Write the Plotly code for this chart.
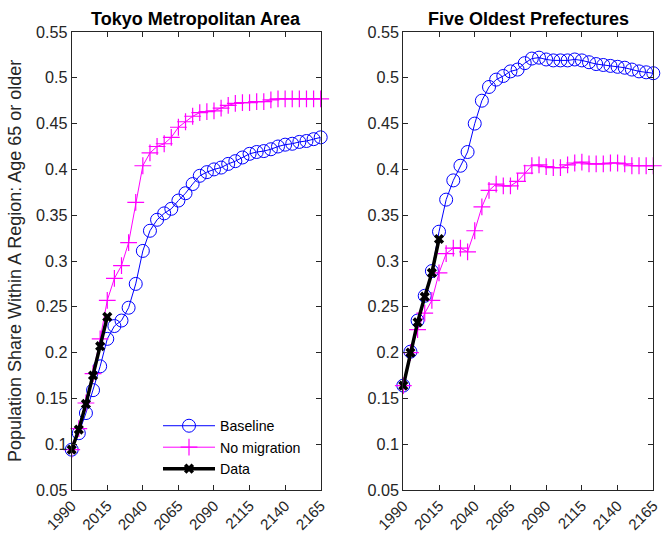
import plotly.graph_objects as go

# Years of the simulation (5-year steps) and the observed period
years = list(range(1990, 2166, 5))
data_years = [1990, 1995, 2000, 2005, 2010, 2015]

# Tokyo Metropolitan Area: share of population aged 65+
tokyo_baseline = [0.094, 0.112, 0.134, 0.159, 0.185, 0.215, 0.229, 0.235, 0.249, 0.275,
                  0.311, 0.333, 0.345, 0.352, 0.357, 0.366, 0.374, 0.384, 0.393, 0.397,
                  0.400, 0.402, 0.406, 0.409, 0.413, 0.417, 0.419, 0.420, 0.422, 0.425,
                  0.427, 0.428, 0.430, 0.431, 0.433, 0.435]
tokyo_nomig = [0.094, 0.117, 0.145, 0.177, 0.215, 0.257, 0.281, 0.295, 0.320, 0.364,
               0.404, 0.418, 0.425, 0.428, 0.435, 0.446, 0.452, 0.458, 0.462, 0.463,
               0.464, 0.467, 0.470, 0.472, 0.473, 0.473, 0.474, 0.474, 0.476, 0.477,
               0.477, 0.477, 0.477, 0.477, 0.477, 0.477]
tokyo_data = [0.094, 0.116, 0.144, 0.175, 0.207, 0.239]

# Five oldest prefectures
old_baseline = [0.164, 0.201, 0.235, 0.262, 0.289, 0.332, 0.367, 0.388, 0.404, 0.419,
                0.450, 0.475, 0.490, 0.498, 0.502, 0.507, 0.509, 0.516, 0.521, 0.522,
                0.520, 0.519, 0.519, 0.519, 0.520, 0.519, 0.517, 0.515, 0.514, 0.513,
                0.512, 0.511, 0.509, 0.507, 0.506, 0.505]
old_nomig = [0.164, 0.200, 0.225, 0.243, 0.257, 0.287, 0.308, 0.314, 0.314, 0.310,
             0.333, 0.359, 0.377, 0.384, 0.382, 0.382, 0.387, 0.396, 0.404, 0.405,
             0.403, 0.402, 0.402, 0.405, 0.407, 0.408, 0.406, 0.406, 0.406, 0.407,
             0.407, 0.406, 0.404, 0.404, 0.404, 0.404]
old_data = [0.164, 0.200, 0.233, 0.261, 0.287, 0.324]

panel_titles = ["Tokyo Metropolitan Area", "Five Oldest Prefectures"]
x_ticks = [1990, 2015, 2040, 2065, 2090, 2115, 2140, 2165]
y_ticks = [0.05, 0.1, 0.15, 0.2, 0.25, 0.3, 0.35, 0.4, 0.45, 0.5, 0.55]
y_tick_text = ["0.05", "0.1", "0.15", "0.2", "0.25", "0.3", "0.35", "0.4", "0.45", "0.5", "0.55"]
y_label = "Population Share Within A Region: Age 65 or older"

W, H = 665, 534
FONT = "Liberation Sans, Arial, sans-serif"
AX = "#262626"
BLUE = "rgb(0,0,255)"
MAG = "rgb(255,0,255)"

fig = go.Figure()

panels = [
    ("x", "y", tokyo_baseline, tokyo_nomig, tokyo_data, True),
    ("x2", "y2", old_baseline, old_nomig, old_data, False),
]
for xa, ya, base, nomig, dat, show in panels:
    fig.add_trace(go.Scatter(
        x=years, y=base, name="Baseline", mode="lines+markers",
        line=dict(color=BLUE, width=1),
        marker=dict(symbol="circle-open", size=13, color=BLUE, line=dict(width=1)),
        xaxis=xa, yaxis=ya, showlegend=show, cliponaxis=False))
    fig.add_trace(go.Scatter(
        x=years, y=nomig, name="No migration", mode="lines+markers",
        line=dict(color=MAG, width=1),
        marker=dict(symbol="cross-thin-open", size=12, color=MAG, line=dict(width=1.2, color=MAG)),
        xaxis=xa, yaxis=ya, showlegend=show, cliponaxis=False))
    fig.add_trace(go.Scatter(
        x=data_years, y=dat, name="Data", mode="lines+markers",
        line=dict(color="black", width=3.5),
        marker=dict(symbol="x", size=9, color="black"),
        xaxis=xa, yaxis=ya, showlegend=show, cliponaxis=False))

px_x = lambda p: p / W
px_y = lambda p: 1 - p / H

axis_common = dict(
    showgrid=False, zeroline=False, showline=True, linecolor=AX, linewidth=1,
    mirror="ticks", ticks="inside", ticklen=5, tickcolor=AX, tickwidth=1,
    automargin=False,
)
y_font = dict(family=FONT, size=16.2, color=AX)
x_font = dict(family=FONT, size=15.2, color=AX)

fig.update_layout(
    width=W, height=H, margin=dict(l=0, r=0, t=0, b=0),
    paper_bgcolor="white", plot_bgcolor="white",
    xaxis=dict(domain=[px_x(71.7), px_x(320.7)], range=[1990, 2165], tickvals=x_ticks,
               tickangle=-45, anchor="y", tickfont=x_font, **axis_common),
    yaxis=dict(domain=[px_y(490), px_y(32)], range=[0.05, 0.55], tickvals=y_ticks,
               ticktext=y_tick_text, anchor="x", tickfont=y_font, **axis_common),
    xaxis2=dict(domain=[px_x(403.3), px_x(653.3)], range=[1990, 2165], tickvals=x_ticks,
                tickangle=-45, anchor="y2", tickfont=x_font, **axis_common),
    yaxis2=dict(domain=[px_y(490), px_y(32)], range=[0.05, 0.55], tickvals=y_ticks,
                ticktext=y_tick_text, anchor="x2", tickfont=y_font, **axis_common),
    legend=dict(x=px_x(158), y=px_y(410), xanchor="left", yanchor="top",
                bgcolor="rgba(0,0,0,0)", borderwidth=0, itemwidth=52,
                tracegroupgap=0, font=dict(family=FONT, size=14.2, color="black")),
    showlegend=True,
)

# Panel titles
for cx, title in zip([(71.7 + 320.7) / 2, (403.3 + 653.3) / 2], panel_titles):
    fig.add_annotation(x=px_x(cx), y=px_y(19), xref="paper", yref="paper",
                       text="<b>" + title + "</b>", showarrow=False,
                       font=dict(family=FONT, size=18, color="black"),
                       xanchor="center", yanchor="middle")

# Shared y-axis label
fig.add_annotation(x=px_x(15), y=px_y(261), xref="paper", yref="paper",
                   text=y_label, textangle=-90, showarrow=False,
                   font=dict(family=FONT, size=18, color=AX),
                   xanchor="center", yanchor="middle")

fig.write_html("out.html")
